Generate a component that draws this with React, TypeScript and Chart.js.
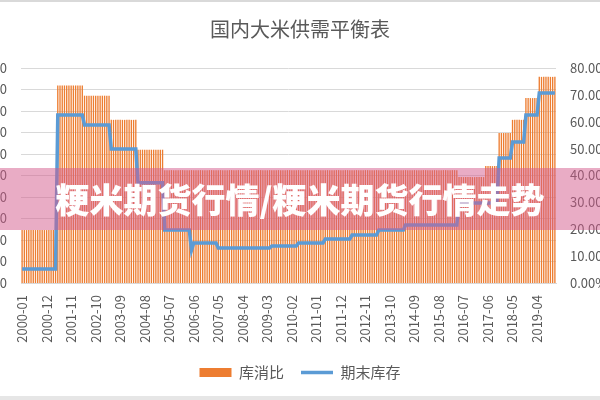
import { useEffect, useRef } from 'react';
import { Chart, registerables } from 'chart.js';

Chart.register(...registerables);

// monthly categories 2000-01 .. 2019-12
const months: string[] = [];
for (let y = 2000; y <= 2019; y++) {
    for (let m = 1; m <= 12; m++) months.push(`${y}-${String(m).padStart(2, '0')}`);
}

// values hold from each start month until the next one
const periodStart = [
    '2000-01', '2001-05', '2002-05', '2003-05', '2004-05', '2005-05', '2006-05',
    '2006-06', '2007-05', '2009-05', '2010-05', '2011-05', '2012-05', '2013-05',
    '2014-05', '2016-05', '2017-05', '2017-11', '2018-05', '2018-11', '2019-05',
];
const stockRatio = [
    19.7, 73.5, 69.7, 60.7, 49.6, 42, 42,
    42, 42, 42, 42, 42, 42, 42,
    42, 39.4, 43.5, 55.8, 60.7, 68.8, 76.7,
];
const endingStock = [
    650, 7810, 7350, 6230, 4660, 2460, 1530,
    1860, 1630, 1720, 1860, 2050, 2230, 2460,
    2700, 3720, 3720, 5810, 6560, 7810, 8840,
];

const leftMax = 10000;
const leftStep = 1000;
const rightMax = 80;
const rightStep = 10;
const labelEvery = 11;

const perMonth = (vals: number[]) =>
    months.map((m) => {
        let k = 0;
        periodStart.forEach((s, i) => {
            if (m >= s) k = i;
        });
        return vals[k];
    });

const FONT = "'Noto Sans CJK SC', 'Noto Sans', sans-serif";
const TEXT = '#595959';
const ORANGE = '#ED7D31';
const BLUE = '#5B9BD5';

const RiceChart = () => {
    const chartRef = useRef<HTMLCanvasElement>(null);

    useEffect(() => {
        const canvas = chartRef.current;
        if (!canvas) return;
        const ctx = canvas.getContext('2d');
        if (!ctx) return;

        Chart.defaults.font.family = FONT;

        const chart = new Chart(ctx, {
            type: 'bar',
            data: {
                labels: months,
                datasets: [
                    {
                        type: 'bar',
                        label: '库消比',
                        data: perMonth(stockRatio),
                        yAxisID: 'y1',
                        backgroundColor: ORANGE,
                        categoryPercentage: 1,
                        barPercentage: 0.6,
                        order: 1,
                    },
                    {
                        type: 'line',
                        label: '期末库存',
                        data: perMonth(endingStock),
                        yAxisID: 'y',
                        borderColor: BLUE,
                        borderWidth: 3.5,
                        pointRadius: 0,
                        tension: 0,
                        order: 0,
                    },
                ],
            },
            options: {
                responsive: false,
                animation: false,
                layout: { padding: { left: 4, right: 0, top: 0, bottom: 10 } },
                plugins: {
                    title: {
                        display: true,
                        text: '国内大米供需平衡表',
                        color: TEXT,
                        font: { size: 20, weight: 'normal' },
                        padding: { top: 17, bottom: 27 },
                    },
                    legend: {
                        position: 'bottom',
                        labels: {
                            usePointStyle: true,
                            pointStyleWidth: 32,
                            boxHeight: 9,
                            padding: 17,
                            color: TEXT,
                            font: { size: 15 },
                            generateLabels: () => [
                                {
                                    text: '库消比',
                                    fillStyle: ORANGE,
                                    strokeStyle: ORANGE,
                                    lineWidth: 0,
                                    pointStyle: 'rect',
                                    fontColor: TEXT,
                                    hidden: false,
                                    datasetIndex: 0,
                                },
                                {
                                    text: '期末库存',
                                    fillStyle: BLUE,
                                    strokeStyle: BLUE,
                                    lineWidth: 3.5,
                                    pointStyle: 'line',
                                    fontColor: TEXT,
                                    hidden: false,
                                    datasetIndex: 1,
                                },
                            ],
                        },
                    },
                    tooltip: { enabled: false },
                },
                scales: {
                    x: {
                        grid: { display: false, drawTicks: false },
                        border: { color: '#d9d9d9' },
                        ticks: {
                            autoSkip: false,
                            minRotation: 90,
                            maxRotation: 90,
                            padding: 12,
                            color: TEXT,
                            font: { size: 13 },
                            callback: (_v: any, i: number) => (i % labelEvery === 0 ? months[i] : ''),
                        },
                        afterFit: (s: any) => {
                            s.height = 65;
                        },
                    },
                    y: {
                        position: 'left',
                        min: 0,
                        max: leftMax,
                        ticks: { stepSize: leftStep, padding: 14, color: TEXT, font: { size: 13 } },
                        grid: { color: '#d9d9d9', drawTicks: false },
                        border: { display: false },
                        afterFit: (s: any) => {
                            s.width = 57;
                        },
                    },
                    y1: {
                        position: 'right',
                        min: 0,
                        max: rightMax,
                        ticks: {
                            stepSize: rightStep,
                            padding: 14,
                            color: TEXT,
                            font: { size: 13 },
                            callback: (v: any) => Number(v).toFixed(2) + '%',
                        },
                        grid: { display: false, drawTicks: false },
                        border: { display: false },
                        afterFit: (s: any) => {
                            s.width = 80;
                        },
                    },
                },
            },
        });

        return () => {
            chart.destroy();
        };
    }, []);

    return (
        <div style={{ position: 'fixed', left: 0, top: 0, width: 600, height: 400, overflow: 'hidden', background: '#fff' }}>
            <canvas ref={chartRef} width={676} height={400} style={{ position: 'absolute', left: -40, top: 0 }}></canvas>
            <div style={{ position: 'absolute', left: 0, top: 0, width: 600, height: 2, background: '#d9d9d9' }}></div>
            <div style={{ position: 'absolute', left: 0, top: 396, width: 600, height: 4, background: '#e6e6e6' }}></div>
            <div
                style={{
                    position: 'absolute',
                    left: 0,
                    top: 168,
                    width: 600,
                    height: 62,
                    background: 'rgba(212, 90, 140, 0.5)',
                    color: '#fff',
                    fontFamily: FONT,
                    fontWeight: 900,
                    fontSize: 34,
                    lineHeight: '62px',
                    textAlign: 'center',
                    whiteSpace: 'nowrap',
                }}
            >
                粳米期货行情/粳米期货行情走势
            </div>
        </div>
    );
};

export default function App() {
    return <RiceChart />;
}
